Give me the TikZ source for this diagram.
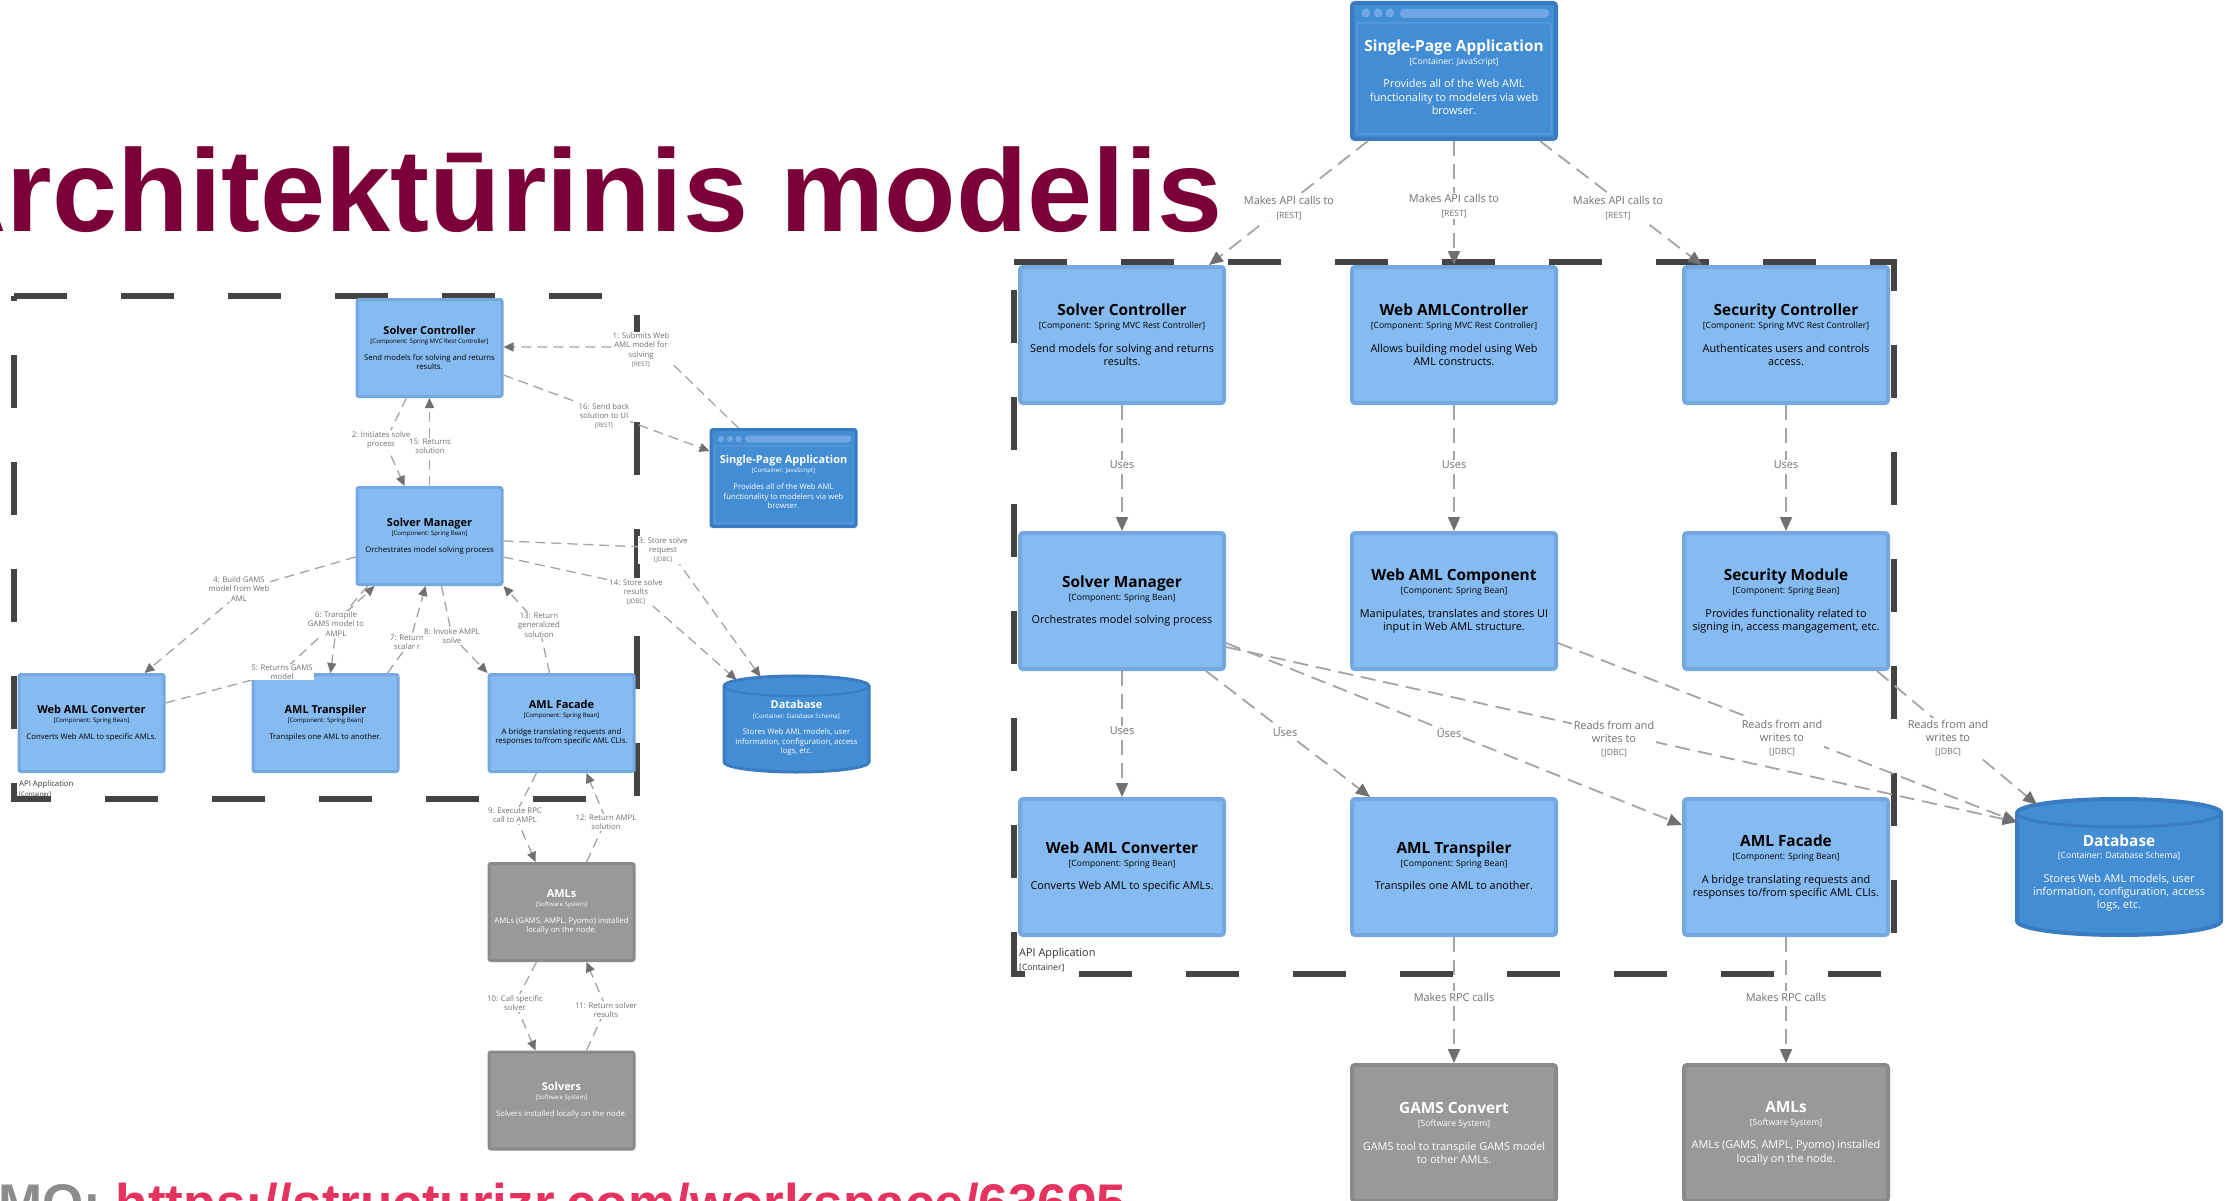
\documentclass[tikz,border=0pt]{standalone}
\usepackage{fontspec}
\setmainfont{Open Sans}
\newfontfamily\titlefont{Liberation Sans}
\usetikzlibrary{arrows.meta}
\definecolor{compfill}{HTML}{85BBF0}
\definecolor{compdraw}{HTML}{74A8E0}
\definecolor{contfill}{HTML}{438DD5}
\definecolor{contdraw}{HTML}{3A7CC2}
\definecolor{sysfill}{HTML}{999999}
\definecolor{sysdraw}{HTML}{8A8A8A}
\definecolor{relline}{HTML}{A4A4A4}
\definecolor{reltip}{HTML}{707070}
\definecolor{reltext}{HTML}{707070}
\definecolor{bound}{HTML}{444444}
\definecolor{titlecol}{HTML}{7B003A}
\definecolor{urlcol}{HTML}{E3335E}
\definecolor{mocol}{HTML}{8C8C8C}
\definecolor{hdrcol}{HTML}{6FA6E3}
\definecolor{hdrline}{HTML}{5596DB}
\definecolor{apicol}{HTML}{333333}
\newcommand\RNm{\fontsize{15.4}{19}\selectfont\bfseries}
\newcommand\RMt{\fontsize{8.6}{12.8}\selectfont}
\newcommand\RDs{\fontsize{10.9}{13.1}\selectfont}
\newcommand\LNm{\fontsize{10.95}{13.5}\selectfont\bfseries}
\newcommand\LMt{\fontsize{6.1}{9.1}\selectfont}
\newcommand\LDs{\fontsize{7.75}{9.3}\selectfont}
\newcommand\RT[4][0pt]{\makebox[0pt]{\parbox{330pt}{\centering\vspace*{#1}%
{\RNm #2\par}{\RMt #3\par}\vspace{10.6pt}{\RDs #4\par}}}}
\newcommand\LT[4][0pt]{\makebox[0pt]{\parbox{240pt}{\centering\vspace*{#1}%
{\LNm #2\par}{\LMt #3\par}\vspace{7.5pt}{\LDs #4\par}}}}
\begin{document}
\begin{tikzpicture}[x=1pt,y=-1pt,
  rbox/.style={rectangle, minimum width=204pt, minimum height=136pt, inner sep=0pt, line width=4pt, rounded corners=3pt},
  lbox/.style={rectangle, minimum width=145pt, minimum height=97pt, inner sep=0pt, line width=3pt, rounded corners=2pt},
  comp/.style={fill=compfill, draw=compdraw, text=black},
  cont/.style={fill=contfill, draw=contdraw, text=white},
  sys/.style={fill=sysfill, draw=sysdraw, text=white},
  rdbtxt/.style={rectangle, minimum width=204pt, minimum height=136pt, inner sep=0pt, text=white},
  ldbtxt/.style={rectangle, minimum width=145pt, minimum height=96pt, inner sep=0pt, text=white},
  cylR/.style={fill=contfill, draw=contdraw, line width=4pt},
  cylL/.style={fill=contfill, draw=contdraw, line width=3pt},
  rrel/.style={draw=relline, line width=1.8pt, dash pattern=on 15pt off 8pt, -{Triangle[length=14pt,width=12pt,color=reltip]}},
  lrel/.style={draw=relline, line width=1.3pt, dash pattern=on 10pt off 6pt, -{Triangle[length=10pt,width=9pt,color=reltip]}},
  rlab/.style={fill=white, text=reltext, inner sep=1.5pt, align=center, font=\RDs},
  llab/.style={fill=white, text=reltext, inner sep=1pt, align=center, font=\LDs},
  bnd/.style={draw=bound, line width=5.5pt, dash pattern=on 53pt off 54pt},
  hdr/.style={fill=hdrcol},
  apilab/.style={anchor=west, inner sep=0pt, align=left, text=apicol},
]
\useasboundingbox (0,0) rectangle (2230,1201);
\clip (0,0) rectangle (2230,1201);
\fill[white] (0,0) rectangle (2230,1201);

% ---------- slide texts ----------
\node[anchor=base east, inner sep=0pt, text=titlecol, font=\titlefont\bfseries\fontsize{117}{117}\selectfont] (title) at (1223,232) {Architektūrinis modelis};
\node[anchor=base west, inner sep=0pt, font=\titlefont\bfseries\fontsize{53}{53}\selectfont] (demo) at (-2,1221) {\textcolor{mocol}{MO:} \textcolor{urlcol}{https://structurizr.com/workspace/63695}};

% ---------- boundaries ----------
\draw[bnd] (14,296) -- (637,296) -- (637,799) -- (14,799) -- cycle;
\draw[bnd] (1014,262) -- (1894,262) -- (1894,974) -- (1014,974) -- cycle;
\node[apilab, font=\LDs] (lapi) at (19,789) {API Application\\{\LMt [Container]}};
\node[apilab, font=\RDs] (rapi) at (1019,960) {API Application\\{\RMt [Container]}};

% ---------- right diagram elements ----------
\node[rbox, cont] (spa) at (1454,71) {\RT[12pt]{Single-Page Application}{[Container: JavaScript]}{Provides all of the Web AML\\functionality to modelers via web\\browser.}};
\fill[hdr] (1366,13) circle[radius=4.5];
\fill[hdr] (1378,13) circle[radius=4.5];
\fill[hdr] (1390,13) circle[radius=4.5];
\fill[hdr, rounded corners=4pt] (1400,9) rectangle (1549,18);
\draw[hdrline, line width=2pt, rounded corners=2pt] (1357,23) rectangle (1551,134);

\node[rbox, comp] (sc) at (1122,335) {\RT{Solver Controller}{[Component: Spring MVC Rest Controller]}{Send models for solving and returns\\results.}};
\node[rbox, comp] (wac) at (1454,335) {\RT{Web AMLController}{[Component: Spring MVC Rest Controller]}{Allows building model using Web\\AML constructs.}};
\node[rbox, comp] (secc) at (1786,335) {\RT{Security Controller}{[Component: Spring MVC Rest Controller]}{Authenticates users and controls\\access.}};
\node[rbox, comp] (sm) at (1122,601) {\RT{Solver Manager}{[Component: Spring Bean]}{Orchestrates model solving process}};
\node[rbox, comp] (wacomp) at (1454,601) {\RT{Web AML Component}{[Component: Spring Bean]}{Manipulates, translates and stores UI\\input in Web AML structure.}};
\node[rbox, comp] (secmod) at (1786,601) {\RT{Security Module}{[Component: Spring Bean]}{Provides functionality related to\\signing in, access mangagement, etc.}};
\node[rbox, comp] (conv) at (1122,867) {\RT{Web AML Converter}{[Component: Spring Bean]}{Converts Web AML to specific AMLs.}};
\node[rbox, comp] (trans) at (1454,867) {\RT{AML Transpiler}{[Component: Spring Bean]}{Transpiles one AML to another.}};
\node[rbox, comp] (fac) at (1786,867) {\RT{AML Facade}{[Component: Spring Bean]}{A bridge translating requests and\\responses to/from specific AML CLIs.}};
\node[rbox, sys] (gams) at (1454,1133) {\RT{GAMS Convert}{[Software System]}{GAMS tool to transpile GAMS model\\to other AMLs.}};
\node[rbox, sys] (amls) at (1786,1133) {\RT{AMLs}{[Software System]}{AMLs (GAMS, AMPL, Pyomo) installed\\locally on the node.}};

\filldraw[cylR] (2017,813) -- (2017,921) arc[start angle=180, end angle=0, x radius=102, y radius=14] -- (2221,813) arc[start angle=0, end angle=-180, x radius=102, y radius=14] -- cycle;
\draw[contdraw, line width=3pt] (2119,813) ellipse[x radius=102, y radius=14];
\node[rdbtxt] (db) at (2119,867) {\RT[12pt]{Database}{[Container: Database Schema]}{Stores Web AML models, user\\information, configuration, access\\logs, etc.}};

% ---------- left diagram elements ----------
\node[lbox, comp] (lsc) at (429.5,348) {\LT{Solver Controller}{[Component: Spring MVC Rest Controller]}{Send models for solving and returns\\results.}};
\node[lbox, comp] (lsm) at (429.5,536) {\LT{Solver Manager}{[Component: Spring Bean]}{Orchestrates model solving process}};
\node[lbox, comp] (lconv) at (91.5,723) {\LT{Web AML Converter}{[Component: Spring Bean]}{Converts Web AML to specific AMLs.}};
\node[lbox, comp] (ltrans) at (325.5,723) {\LT{AML Transpiler}{[Component: Spring Bean]}{Transpiles one AML to another.}};
\node[lbox, comp] (lfac) at (561.5,723) {\LT{AML Facade}{[Component: Spring Bean]}{A bridge translating requests and\\responses to/from specific AML CLIs.}};
\node[lbox, sys] (lamls) at (561.5,912) {\LT{AMLs}{[Software System]}{AMLs (GAMS, AMPL, Pyomo) installed\\locally on the node.}};
\node[lbox, sys] (lsolv) at (561.5,1100.5) {\LT{Solvers}{[Software System]}{Solvers installed locally on the node.}};
\node[lbox, cont] (lspa) at (783.5,478) {\LT[8pt]{Single-Page Application}{[Container: JavaScript]}{Provides all of the Web AML\\functionality to modelers via web\\browser.}};
\fill[hdr] (721,439) circle[radius=3.2];
\fill[hdr] (730,439) circle[radius=3.2];
\fill[hdr] (738.5,439) circle[radius=3.2];
\fill[hdr, rounded corners=3pt] (745,435.5) rectangle (851,442.5);
\draw[hdrline, line width=1.5pt, rounded corners=1.5pt] (714.5,446) rectangle (852.5,523);

\filldraw[cylL] (724,686) -- (724,762) arc[start angle=180, end angle=0, x radius=72.5, y radius=10] -- (869,686) arc[start angle=0, end angle=-180, x radius=72.5, y radius=10] -- cycle;
\draw[contdraw, line width=2.2pt] (796.5,686) ellipse[x radius=72.5, y radius=10];
\node[ldbtxt] (ldb) at (796.5,724) {\LT[8pt]{Database}{[Container: Database Schema]}{Stores Web AML models, user\\information, configuration, access\\logs, etc.}};

% ---------- right relationships ----------
\draw[rrel] ([xshift=-86pt]spa.south) -- ([xshift=87pt]sc.north);
\draw[rrel] (spa.south) -- (wac.north);
\draw[rrel] ([xshift=86pt]spa.south) -- ([xshift=-84pt]secc.north);
\draw[rrel] (sc.south) -- (sm.north);
\draw[rrel] (wac.south) -- (wacomp.north);
\draw[rrel] (secc.south) -- (secmod.north);
\draw[rrel] (sm.south) -- (conv.north);
\draw[rrel] ([xshift=84pt]sm.south) -- ([xshift=-84pt]trans.north);
\draw[rrel] ([yshift=-42pt]sm.east) -- ([yshift=42pt]fac.west);
\draw[rrel] ([yshift=-46pt]sm.east) -- ([yshift=45pt]db.west);
\draw[rrel] ([yshift=-42pt]wacomp.east) -- ([yshift=45pt]db.west);
\draw[rrel] ([xshift=-13pt]secmod.south east) -- ([xshift=-82pt,yshift=-6pt]db.north);
\draw[rrel] (trans.south) -- (gams.north);
\draw[rrel] (fac.south) -- (amls.north);

% ---------- left relationships ----------
\coordinate (v1) at (655,347);
\coordinate (v2) at (385,442);
\coordinate (v3) at (668,548);
\coordinate (v14) at (628,584);
\coordinate (v4) at (245,589);
\coordinate (v5) at (282,672);
\coordinate (v6) at (337,622);
\coordinate (v7) at (410,642);
\coordinate (v8) at (452,636);
\coordinate (v13) at (539,625);
\coordinate (v9) at (515,815);
\coordinate (v12) at (606,820);
\coordinate (v10) at (515,1003);
\coordinate (v11) at (606,1008);
\draw[lrel] ([xshift=-45pt]lspa.north) -- (v1) -- ([yshift=1pt]lsc.east);
\draw[lrel] ([yshift=-27pt]lsc.east) -- ([yshift=27pt]lspa.west);
\draw[lrel] ([xshift=-23pt]lsc.south) -- (v2) -- ([xshift=-25pt]lsm.north);
\draw[lrel] (lsm.north) -- (lsc.south);
\draw[lrel] ([yshift=-5pt]lsm.east) -- (v3) -- ([xshift=-36pt,yshift=-1pt]ldb.north);
\draw[lrel] ([yshift=-21pt]lsm.east) -- (v14) -- ([xshift=-60pt,yshift=-4pt]ldb.north);
\draw[lrel] ([yshift=-21pt]lsm.west) -- (v4) -- ([xshift=53pt]lconv.north);
\draw[lrel] ([yshift=20pt]lconv.east) -- (v5) -- ([xshift=-55pt]lsm.south);
\draw[lrel] ([xshift=-62pt]lsm.south) -- (v6) -- ([xshift=5pt]ltrans.north);
\draw[lrel] ([xshift=62pt]ltrans.north) -- (v7) -- ([xshift=-4pt]lsm.south);
\draw[lrel] ([xshift=12pt]lsm.south) -- (v8) -- (lfac.north west);
\draw[lrel] ([xshift=-12pt]lfac.north) -- (v13) -- (lsm.south east);
\draw[lrel] ([xshift=-25pt]lfac.south) -- (v9) -- ([xshift=-26pt]lamls.north);
\draw[lrel] ([xshift=25pt]lamls.north) -- (v12) -- ([xshift=25pt]lfac.south);
\draw[lrel] ([xshift=-25pt]lamls.south) -- (v10) -- ([xshift=-26pt]lsolv.north);
\draw[lrel] ([xshift=25pt]lsolv.north) -- (v11) -- ([xshift=25pt]lamls.south);

% ---------- right labels ----------
\node[rlab] (rl1) at (1289,208) {Makes API calls to\\{\RMt [REST]}};
\node[rlab] (rl2) at (1454,206) {Makes API calls to\\{\RMt [REST]}};
\node[rlab] (rl3) at (1618,208) {Makes API calls to\\{\RMt [REST]}};
\node[rlab] (rl4) at (1122,465) {Uses};
\node[rlab] (rl5) at (1454,465) {Uses};
\node[rlab] (rl6) at (1786,465) {Uses};
\node[rlab] (rl7) at (1122,731) {Uses};
\node[rlab] (rl8) at (1285,733) {Uses};
\node[rlab] (rl9) at (1449,734) {Uses};
\node[rlab] (rl10) at (1614,739) {Reads from and\\writes to\\{\RMt [JDBC]}};
\node[rlab] (rl11) at (1782,738) {Reads from and\\writes to\\{\RMt [JDBC]}};
\node[rlab] (rl12) at (1948,738) {Reads from and\\writes to\\{\RMt [JDBC]}};
\node[rlab] (rl13) at (1454,997) {Makes RPC calls};
\node[rlab] (rl14) at (1786,997) {Makes RPC calls};

% ---------- left labels ----------
\node[llab] (ll1) at (641,350) {1: Submits Web\\AML model for\\solving\\{\LMt [REST]}};
\node[llab] (ll16) at (604,416) {16: Send back\\solution to UI\\{\LMt [REST]}};
\node[llab] (ll2) at (381,440) {2: Initiates solve\\process};
\node[llab] (ll15) at (430,446) {15: Returns\\solution};
\node[llab] (ll3) at (663,550) {3: Store solve\\request\\{\LMt [JDBC]}};
\node[llab] (ll14) at (636,592) {14: Store solve\\results\\{\LMt [JDBC]}};
\node[llab] (ll4) at (239,589) {4: Build GAMS\\model from Web\\AML};
\node[llab] (ll6) at (336,624) {6: Transpile\\GAMS model to\\AMPL};
\node[llab] (ll5) at (282,672) {5: Returns GAMS\\model};
\node[llab] (ll7) at (407,642) {7: Return\\scalar r};
\node[llab] (ll8) at (452,636) {8: Invoke AMPL\\solve};
\node[llab] (ll13) at (539,625) {13: Return\\generalized\\solution};
\node[llab] (ll9) at (515,815) {9: Execute RPC\\call to AMPL};
\node[llab] (ll12) at (606,822) {12: Return AMPL\\solution};
\node[llab] (ll10) at (515,1003) {10: Call specific\\solver};
\node[llab] (ll11) at (606,1010) {11: Return solver\\results};
\end{tikzpicture}
\end{document}
